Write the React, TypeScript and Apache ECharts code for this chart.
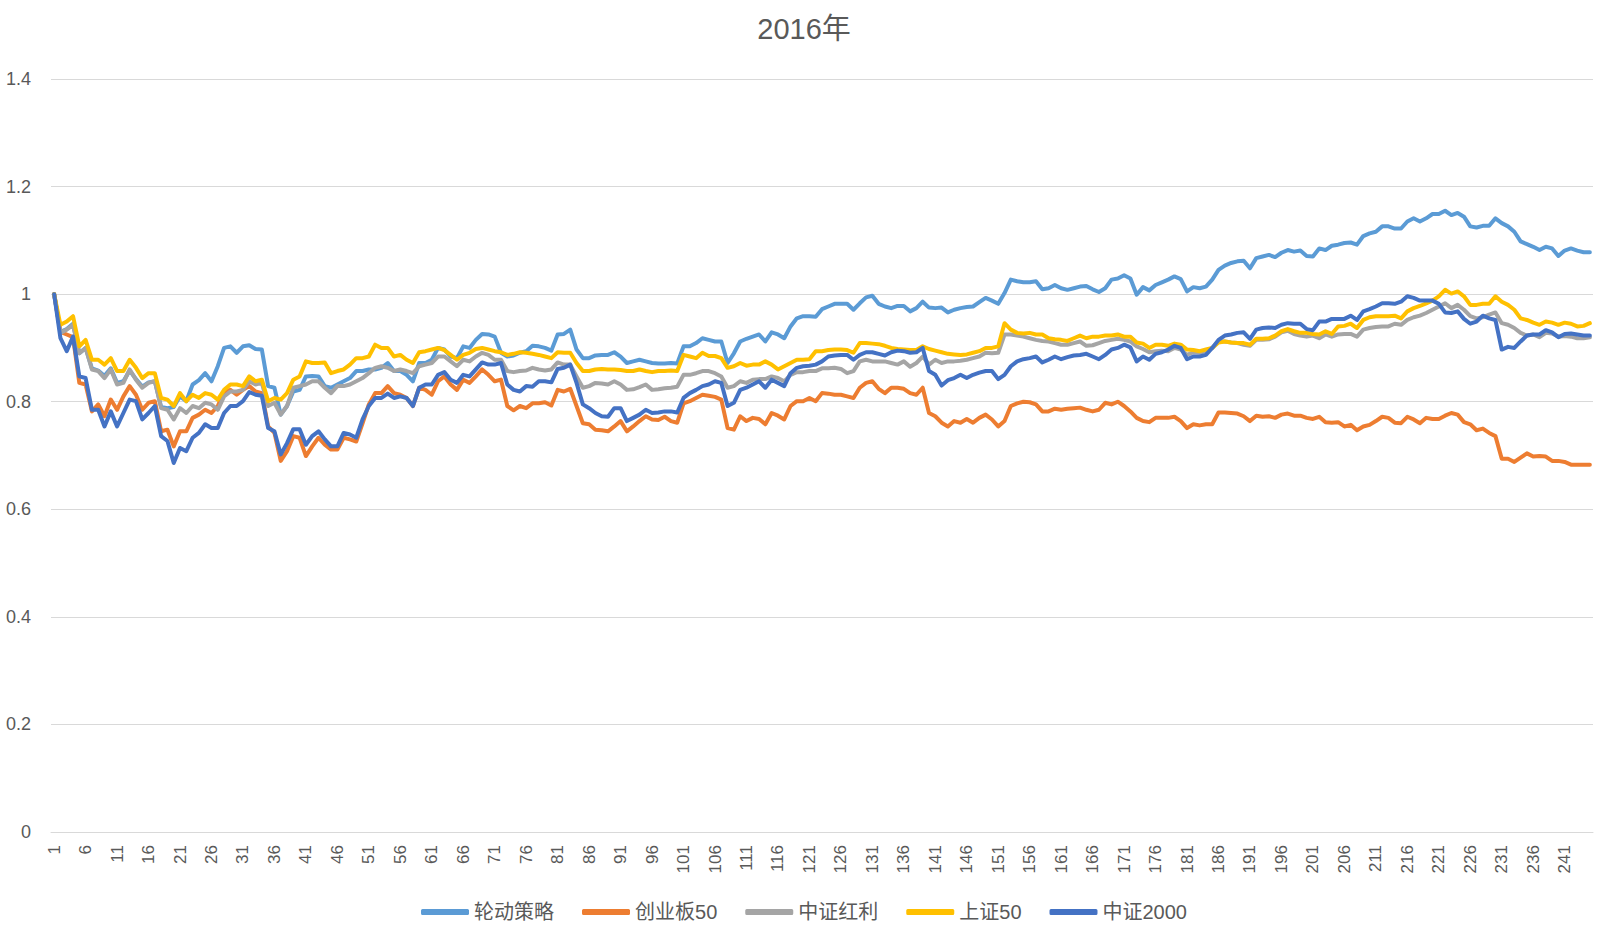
import React, { useEffect, useRef } from "react";
import * as echarts from "echarts";

const titleText = "2016年";
const seriesNames = ["轮动策略", "创业板50", "中证红利", "上证50", "中证2000"];
const seriesColors = ["#5B9BD5", "#ED7D31", "#A5A5A5", "#FFC000", "#4472C4"];
const dayCount = 245;
const categories = Array.from({ length: dayCount }, (_, i) => String(i + 1));
const yTicks = { min: 0, max: 1.4, interval: 0.2 };

const rotation = [
  1.000, 0.930, 0.935, 0.945, 0.890, 0.900, 0.862, 0.858, 0.848, 0.862,
  0.835, 0.838, 0.858, 0.842, 0.828, 0.836, 0.838, 0.790, 0.788, 0.790,
  0.810, 0.801, 0.832, 0.840, 0.853, 0.838, 0.866, 0.900, 0.903, 0.891,
  0.903, 0.905, 0.898, 0.897, 0.829, 0.826, 0.776, 0.792, 0.819, 0.822,
  0.847, 0.848, 0.847, 0.829, 0.826, 0.832, 0.838, 0.844, 0.857, 0.857,
  0.860, 0.860, 0.863, 0.872, 0.857, 0.857, 0.850, 0.838, 0.872, 0.872,
  0.878, 0.900, 0.897, 0.884, 0.881, 0.903, 0.900, 0.915, 0.926, 0.925,
  0.921, 0.891, 0.884, 0.886, 0.891, 0.894, 0.904, 0.903, 0.900, 0.895,
  0.925, 0.926, 0.934, 0.897, 0.881, 0.881, 0.886, 0.887, 0.887, 0.892,
  0.884, 0.872, 0.875, 0.878, 0.875, 0.872, 0.871, 0.871, 0.872, 0.871,
  0.903, 0.903, 0.909, 0.918, 0.915, 0.912, 0.912, 0.872, 0.890, 0.912,
  0.917, 0.921, 0.925, 0.912, 0.929, 0.925, 0.918, 0.940, 0.955, 0.959,
  0.959, 0.958, 0.972, 0.977, 0.982, 0.982, 0.982, 0.971, 0.983, 0.994,
  0.997, 0.982, 0.977, 0.974, 0.978, 0.978, 0.968, 0.974, 0.986, 0.975,
  0.974, 0.975, 0.966, 0.971, 0.974, 0.976, 0.977, 0.985, 0.993, 0.988,
  0.982, 1.002, 1.027, 1.024, 1.022, 1.022, 1.024, 1.009, 1.011, 1.017,
  1.011, 1.008, 1.011, 1.014, 1.015, 1.009, 1.004, 1.011, 1.027, 1.029,
  1.035, 1.029, 0.999, 1.013, 1.007, 1.017, 1.022, 1.027, 1.033, 1.028,
  1.005, 1.013, 1.011, 1.014, 1.027, 1.045, 1.053, 1.058, 1.061, 1.062,
  1.048, 1.067, 1.070, 1.073, 1.069, 1.077, 1.082, 1.079, 1.081, 1.071,
  1.070, 1.085, 1.082, 1.090, 1.092, 1.095, 1.096, 1.092, 1.108, 1.113,
  1.116, 1.126, 1.126, 1.122, 1.122, 1.135, 1.141, 1.135, 1.141, 1.149,
  1.149, 1.155, 1.147, 1.151, 1.144, 1.126, 1.124, 1.127, 1.127, 1.141,
  1.132, 1.126, 1.116, 1.098, 1.093, 1.088, 1.082, 1.088, 1.085, 1.071,
  1.081, 1.085, 1.081, 1.078, 1.078,
];

const chinext50 = [
  1.000, 0.930, 0.925, 0.920, 0.835, 0.832, 0.782, 0.795, 0.773, 0.804,
  0.785, 0.810, 0.829, 0.813, 0.785, 0.798, 0.801, 0.745, 0.748, 0.717,
  0.745, 0.745, 0.770, 0.776, 0.785, 0.779, 0.792, 0.819, 0.822, 0.813,
  0.822, 0.829, 0.819, 0.816, 0.754, 0.742, 0.690, 0.708, 0.736, 0.733,
  0.699, 0.717, 0.733, 0.720, 0.711, 0.711, 0.733, 0.730, 0.726, 0.760,
  0.795, 0.816, 0.816, 0.829, 0.816, 0.813, 0.807, 0.792, 0.826, 0.822,
  0.813, 0.838, 0.847, 0.832, 0.822, 0.841, 0.835, 0.847, 0.860, 0.850,
  0.838, 0.841, 0.792, 0.784, 0.792, 0.788, 0.797, 0.797, 0.799, 0.793,
  0.822, 0.819, 0.824, 0.792, 0.760, 0.758, 0.748, 0.747, 0.745, 0.754,
  0.764, 0.745, 0.754, 0.764, 0.773, 0.767, 0.766, 0.772, 0.764, 0.761,
  0.797, 0.801, 0.807, 0.813, 0.811, 0.809, 0.804, 0.751, 0.748, 0.773,
  0.764, 0.770, 0.768, 0.758, 0.779, 0.774, 0.767, 0.792, 0.801, 0.801,
  0.807, 0.801, 0.816, 0.815, 0.813, 0.813, 0.810, 0.807, 0.826, 0.835,
  0.838, 0.824, 0.816, 0.826, 0.826, 0.824, 0.816, 0.813, 0.826, 0.779,
  0.773, 0.761, 0.754, 0.764, 0.761, 0.768, 0.761, 0.770, 0.776, 0.767,
  0.754, 0.764, 0.792, 0.797, 0.800, 0.799, 0.795, 0.782, 0.782, 0.787,
  0.785, 0.787, 0.788, 0.789, 0.785, 0.782, 0.785, 0.798, 0.795, 0.800,
  0.792, 0.782, 0.770, 0.764, 0.762, 0.770, 0.770, 0.770, 0.772, 0.764,
  0.751, 0.758, 0.756, 0.758, 0.758, 0.780, 0.780, 0.779, 0.778, 0.773,
  0.764, 0.774, 0.772, 0.773, 0.770, 0.776, 0.778, 0.774, 0.774, 0.770,
  0.768, 0.772, 0.762, 0.761, 0.762, 0.754, 0.757, 0.747, 0.754, 0.757,
  0.764, 0.772, 0.770, 0.761, 0.760, 0.772, 0.767, 0.760, 0.770, 0.768,
  0.768, 0.774, 0.779, 0.776, 0.762, 0.758, 0.747, 0.750, 0.742, 0.736,
  0.694, 0.694, 0.688, 0.696, 0.704, 0.698, 0.699, 0.698, 0.690, 0.690,
  0.688, 0.683, 0.683, 0.683, 0.683,
];

const csiDividend = [
  1.000, 0.928, 0.934, 0.943, 0.890, 0.900, 0.860, 0.857, 0.844, 0.860,
  0.832, 0.835, 0.860, 0.841, 0.826, 0.835, 0.838, 0.788, 0.785, 0.767,
  0.788, 0.779, 0.792, 0.788, 0.798, 0.795, 0.785, 0.810, 0.819, 0.819,
  0.822, 0.838, 0.832, 0.835, 0.792, 0.798, 0.776, 0.792, 0.826, 0.829,
  0.832, 0.838, 0.838, 0.826, 0.816, 0.829, 0.829, 0.832, 0.838, 0.844,
  0.853, 0.863, 0.866, 0.863, 0.857, 0.860, 0.857, 0.853, 0.866, 0.869,
  0.872, 0.884, 0.884, 0.875, 0.866, 0.878, 0.875, 0.884, 0.891, 0.887,
  0.878, 0.878, 0.857, 0.855, 0.857, 0.858, 0.863, 0.860, 0.858, 0.860,
  0.873, 0.869, 0.869, 0.847, 0.826, 0.829, 0.835, 0.834, 0.832, 0.838,
  0.832, 0.822, 0.823, 0.827, 0.832, 0.822, 0.823, 0.825, 0.826, 0.828,
  0.850, 0.850, 0.853, 0.857, 0.857, 0.853, 0.847, 0.826, 0.829, 0.838,
  0.835, 0.841, 0.842, 0.842, 0.847, 0.844, 0.838, 0.850, 0.855, 0.855,
  0.857, 0.857, 0.862, 0.862, 0.863, 0.861, 0.853, 0.857, 0.875, 0.878,
  0.875, 0.875, 0.875, 0.872, 0.869, 0.875, 0.865, 0.872, 0.884, 0.869,
  0.878, 0.872, 0.875, 0.875, 0.876, 0.878, 0.881, 0.884, 0.891, 0.890,
  0.891, 0.925, 0.925, 0.923, 0.921, 0.918, 0.915, 0.913, 0.912, 0.909,
  0.906, 0.906, 0.909, 0.912, 0.904, 0.905, 0.909, 0.913, 0.915, 0.917,
  0.915, 0.912, 0.903, 0.898, 0.892, 0.894, 0.895, 0.894, 0.900, 0.897,
  0.887, 0.892, 0.891, 0.894, 0.900, 0.912, 0.912, 0.910, 0.909, 0.906,
  0.904, 0.915, 0.915, 0.916, 0.921, 0.929, 0.932, 0.926, 0.923, 0.921,
  0.923, 0.918, 0.925, 0.921, 0.925, 0.926, 0.926, 0.921, 0.934, 0.937,
  0.939, 0.940, 0.940, 0.945, 0.943, 0.952, 0.957, 0.960, 0.965, 0.971,
  0.977, 0.983, 0.974, 0.980, 0.971, 0.959, 0.955, 0.957, 0.962, 0.966,
  0.946, 0.943, 0.937, 0.928, 0.923, 0.925, 0.920, 0.928, 0.927, 0.921,
  0.922, 0.921, 0.918, 0.918, 0.920,
];

const sse50 = [
  1.000, 0.943, 0.949, 0.959, 0.903, 0.915, 0.878, 0.878, 0.869, 0.881,
  0.857, 0.857, 0.878, 0.863, 0.844, 0.853, 0.853, 0.807, 0.804, 0.792,
  0.816, 0.801, 0.813, 0.807, 0.816, 0.813, 0.804, 0.822, 0.832, 0.832,
  0.829, 0.847, 0.838, 0.841, 0.801, 0.807, 0.804, 0.816, 0.841, 0.847,
  0.875, 0.872, 0.872, 0.873, 0.853, 0.857, 0.860, 0.869, 0.881, 0.881,
  0.884, 0.906, 0.900, 0.900, 0.884, 0.887, 0.878, 0.872, 0.892, 0.894,
  0.897, 0.900, 0.896, 0.887, 0.878, 0.887, 0.891, 0.898, 0.900, 0.897,
  0.894, 0.892, 0.887, 0.889, 0.892, 0.891, 0.889, 0.887, 0.884, 0.881,
  0.892, 0.891, 0.891, 0.872, 0.857, 0.857, 0.860, 0.861, 0.860, 0.860,
  0.859, 0.857, 0.857, 0.860, 0.857, 0.855, 0.857, 0.857, 0.858, 0.857,
  0.887, 0.884, 0.881, 0.891, 0.885, 0.885, 0.881, 0.863, 0.866, 0.872,
  0.867, 0.869, 0.869, 0.875, 0.869, 0.860, 0.866, 0.872, 0.878, 0.878,
  0.879, 0.894, 0.894, 0.896, 0.897, 0.897, 0.896, 0.891, 0.909, 0.909,
  0.908, 0.907, 0.904, 0.900, 0.898, 0.897, 0.896, 0.896, 0.903, 0.898,
  0.895, 0.892, 0.889, 0.888, 0.887, 0.888, 0.891, 0.894, 0.900, 0.900,
  0.903, 0.946, 0.934, 0.928, 0.927, 0.928, 0.925, 0.925, 0.918, 0.916,
  0.915, 0.913, 0.918, 0.923, 0.918, 0.921, 0.921, 0.923, 0.923, 0.925,
  0.921, 0.921, 0.910, 0.908, 0.900, 0.906, 0.906, 0.904, 0.908, 0.906,
  0.897, 0.896, 0.894, 0.897, 0.900, 0.910, 0.912, 0.910, 0.909, 0.909,
  0.906, 0.917, 0.917, 0.918, 0.923, 0.931, 0.935, 0.931, 0.928, 0.928,
  0.926, 0.925, 0.931, 0.926, 0.940, 0.941, 0.945, 0.937, 0.952, 0.957,
  0.959, 0.959, 0.959, 0.960, 0.955, 0.968, 0.974, 0.978, 0.983, 0.988,
  0.996, 1.008, 1.001, 1.005, 0.996, 0.980, 0.980, 0.982, 0.982, 0.996,
  0.986, 0.980, 0.971, 0.955, 0.952, 0.947, 0.943, 0.949, 0.947, 0.943,
  0.947, 0.945, 0.940, 0.941, 0.946,
];

const csi2000 = [
  1.000, 0.918, 0.894, 0.921, 0.847, 0.844, 0.785, 0.785, 0.754, 0.782,
  0.754, 0.779, 0.804, 0.801, 0.767, 0.779, 0.792, 0.736, 0.727, 0.686,
  0.714, 0.708, 0.733, 0.742, 0.758, 0.751, 0.751, 0.779, 0.792, 0.792,
  0.801, 0.818, 0.813, 0.811, 0.751, 0.745, 0.702, 0.723, 0.749, 0.749,
  0.720, 0.736, 0.745, 0.730, 0.717, 0.717, 0.742, 0.739, 0.733, 0.767,
  0.792, 0.807, 0.807, 0.815, 0.807, 0.810, 0.807, 0.792, 0.826, 0.832,
  0.832, 0.850, 0.855, 0.841, 0.835, 0.850, 0.847, 0.860, 0.873, 0.869,
  0.869, 0.872, 0.832, 0.822, 0.819, 0.829, 0.828, 0.838, 0.838, 0.836,
  0.861, 0.863, 0.869, 0.835, 0.795, 0.788, 0.779, 0.773, 0.772, 0.788,
  0.788, 0.764, 0.770, 0.776, 0.785, 0.779, 0.780, 0.782, 0.782, 0.780,
  0.807, 0.816, 0.822, 0.829, 0.832, 0.838, 0.835, 0.792, 0.798, 0.822,
  0.826, 0.832, 0.838, 0.826, 0.841, 0.835, 0.829, 0.853, 0.863, 0.866,
  0.867, 0.869, 0.875, 0.884, 0.886, 0.887, 0.887, 0.878, 0.887, 0.892,
  0.892, 0.889, 0.886, 0.892, 0.895, 0.894, 0.891, 0.892, 0.900, 0.857,
  0.850, 0.830, 0.840, 0.844, 0.850, 0.844, 0.850, 0.854, 0.857, 0.857,
  0.842, 0.850, 0.866, 0.875, 0.879, 0.881, 0.884, 0.873, 0.878, 0.884,
  0.879, 0.883, 0.886, 0.887, 0.889, 0.884, 0.879, 0.887, 0.897, 0.900,
  0.906, 0.901, 0.875, 0.884, 0.878, 0.889, 0.892, 0.897, 0.904, 0.900,
  0.879, 0.884, 0.884, 0.887, 0.900, 0.915, 0.923, 0.925, 0.928, 0.929,
  0.917, 0.934, 0.937, 0.938, 0.937, 0.943, 0.946, 0.945, 0.945, 0.935,
  0.933, 0.949, 0.949, 0.954, 0.954, 0.954, 0.960, 0.952, 0.968, 0.972,
  0.977, 0.983, 0.983, 0.982, 0.986, 0.996, 0.993, 0.988, 0.988, 0.988,
  0.982, 0.966, 0.965, 0.968, 0.954, 0.945, 0.949, 0.960, 0.955, 0.952,
  0.897, 0.902, 0.900, 0.912, 0.923, 0.925, 0.925, 0.933, 0.929, 0.920,
  0.926, 0.927, 0.925, 0.923, 0.923,
];

const seriesValues = [rotation, chinext50, csiDividend, sse50, csi2000];

const FONT = "'Liberation Sans', 'Noto Sans CJK SC', sans-serif";
const TEXT_COLOR = "#595959";
const GRID_COLOR = "#D9D9D9";

export default function App() {
  const ref = useRef<HTMLDivElement>(null);

  useEffect(() => {
    if (!ref.current) return;
    const chart = echarts.init(ref.current, undefined, { renderer: "svg" });
    chart.setOption({
      animation: false,
      backgroundColor: "#FFFFFF",
      color: seriesColors,
      title: {
        text: titleText,
        left: "center",
        top: 14,
        padding: 0,
        textStyle: {
          fontFamily: FONT,
          fontSize: 29,
          fontWeight: "normal",
          color: TEXT_COLOR,
        },
      },
      grid: { left: 51, right: 15, top: 79, bottom: 105, containLabel: false },
      legend: {
        data: seriesNames,
        left: "center",
        top: 902,
        padding: 0,
        icon: "roundRect",
        itemWidth: 48,
        itemHeight: 6,
        itemGap: 28,
        textStyle: { fontFamily: FONT, fontSize: 20, color: TEXT_COLOR },
      },
      xAxis: {
        type: "category",
        data: categories,
        boundaryGap: true,
        axisLine: { show: true, lineStyle: { color: GRID_COLOR, width: 1 } },
        axisTick: { show: false },
        splitLine: { show: false },
        axisLabel: {
          interval: 4,
          rotate: 90,
          margin: 13,
          fontFamily: FONT,
          fontSize: 17,
          color: TEXT_COLOR,
        },
      },
      yAxis: {
        type: "value",
        min: yTicks.min,
        max: yTicks.max,
        interval: yTicks.interval,
        axisLine: { show: false },
        axisTick: { show: false },
        splitLine: { show: true, lineStyle: { color: GRID_COLOR, width: 1 } },
        axisLabel: {
          margin: 20,
          fontFamily: FONT,
          fontSize: 18,
          color: TEXT_COLOR,
        },
      },
      series: seriesNames.map((name, idx) => ({
        name,
        type: "line",
        data: seriesValues[idx],
        showSymbol: false,
        symbol: "none",
        lineStyle: { width: 4, color: seriesColors[idx], cap: "round", join: "round" },
        itemStyle: { color: seriesColors[idx] },
        emphasis: { disabled: true },
      })),
    });
    return () => chart.dispose();
  }, []);

  return (
    <div
      ref={ref}
      style={{ position: "fixed", left: 0, top: 0, width: 1608, height: 937, background: "#fff" }}
    />
  );
}
